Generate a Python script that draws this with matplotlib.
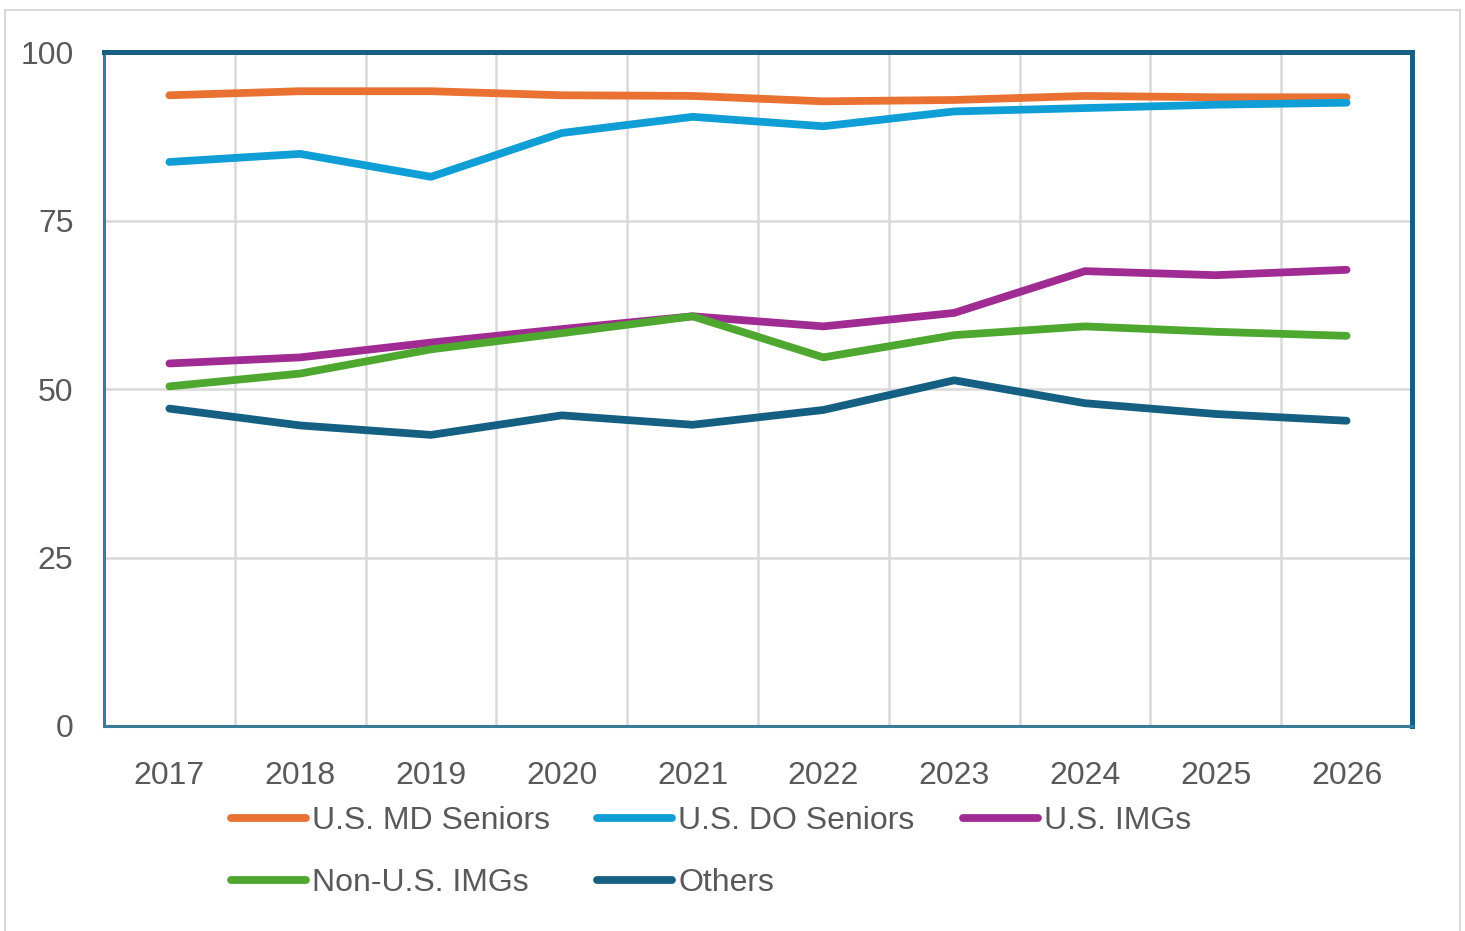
import matplotlib.pyplot as plt
from matplotlib.patches import Rectangle
from matplotlib.ticker import FixedLocator

years = ["2017", "2018", "2019", "2020", "2021", "2022", "2023", "2024", "2025", "2026"]
md_seniors = [93.6, 94.2, 94.2, 93.6, 93.5, 92.7, 92.9, 93.5, 93.3, 93.3]
do_seniors = [83.7, 84.9, 81.5, 88.0, 90.4, 89.0, 91.2, 91.7, 92.2, 92.5]
us_imgs = [53.8, 54.7, 56.9, 58.9, 60.8, 59.3, 61.3, 67.5, 66.9, 67.7]
non_us_imgs = [50.4, 52.3, 55.9, 58.3, 60.8, 54.7, 58.0, 59.3, 58.5, 57.9]
others = [47.1, 44.6, 43.2, 46.1, 44.7, 46.9, 51.3, 47.9, 46.3, 45.3]

series = [
    ("U.S. MD Seniors", md_seniors, "#E97132"),
    ("U.S. DO Seniors", do_seniors, "#0F9ED5"),
    ("U.S. IMGs", us_imgs, "#A02B93"),
    ("Non-U.S. IMGs", non_us_imgs, "#4EA72E"),
    ("Others", others, "#156082"),
]

plt.rcParams['font.family'] = ['Liberation Sans', 'DejaVu Sans']

fig = plt.figure(figsize=(14.65, 9.31), dpi=100)
ax = fig.add_axes([0.071, 0.2202, 0.8928, 0.7238])

x = list(range(len(years)))
handles = []
for name, vals, col in series:
    h, = ax.plot(x, vals, color=col, lw=5.6, solid_capstyle='round',
                 solid_joinstyle='round', label=name, zorder=3)
    handles.append(h)

ax.set_xlim(-0.5, len(years) - 0.5)
ax.set_ylim(0, 100)
ax.set_yticks([0, 25, 50, 75, 100])
ax.set_xticks(x)
ax.set_xticklabels(years)
ax.xaxis.set_minor_locator(FixedLocator([i + 0.5 for i in range(-1, len(years))]))
ax.grid(True, axis='y', which='major', color='#d9d9d9', lw=1.8)
ax.grid(True, axis='x', which='minor', color='#d9d9d9', lw=1.8)
ax.set_axisbelow(True)

ax.tick_params(axis='both', which='both', length=0, labelsize=23, labelcolor='#595959')
ax.tick_params(axis='x', pad=25)
ax.tick_params(axis='y', pad=22)

for side in ['top', 'right']:
    ax.spines[side].set_color('#156082')
    ax.spines[side].set_linewidth(3.6)
for side in ['left', 'bottom']:
    ax.spines[side].set_color('#3d7c99')
    ax.spines[side].set_linewidth(2.2)

# legend entries placed one by one (3 columns x 2 rows, Excel style)
leg_pos = [(231, 821), (597, 821), (963, 821), (231, 883), (597, 883)]
for h, (lx, ly) in zip(handles, leg_pos):
    leg = fig.legend([h], [h.get_label()], loc='center left',
                     bbox_to_anchor=(lx / 1465, 1 - ly / 931), frameon=False,
                     fontsize=23, handlelength=2.35, handletextpad=0.2,
                     borderaxespad=0, borderpad=0)
    leg.get_texts()[0].set_color('#595959')

fig.patches.append(Rectangle((5 / 1465, -0.05), 1455 / 1465, 1.05 - 10 / 931,
                             transform=fig.transFigure, fill=False,
                             edgecolor='#d9d9d9', lw=1.5))

fig.savefig("out.png", dpi=100)
